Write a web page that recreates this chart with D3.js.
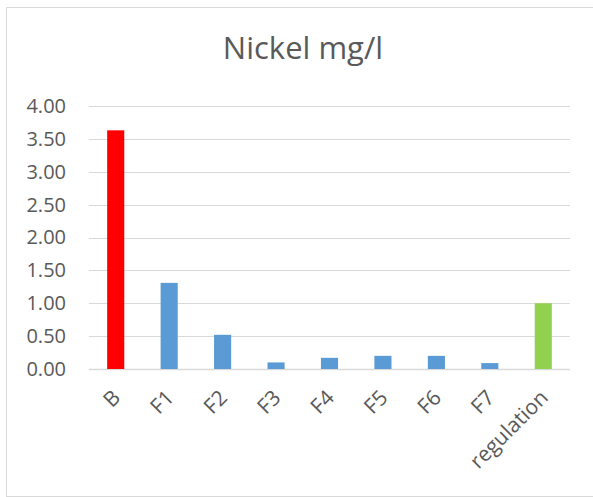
<!DOCTYPE html>
<html><head><meta charset="utf-8">
<script src="https://cdn.jsdelivr.net/npm/d3@7"></script>
<style>body{margin:0;background:#fff}svg{display:block}text{font-family:"Open Sans",sans-serif;fill:#595959}</style>
</head><body><svg id="c" width="593" height="497"></svg>
<script>
const categories = ["B","F1","F2","F3","F4","F5","F6","F7","regulation"];
const values = [3.63,1.31,0.52,0.10,0.17,0.20,0.20,0.09,1.00];
const colors = ["#FF0000","#5B9BD5","#5B9BD5","#5B9BD5","#5B9BD5","#5B9BD5","#5B9BD5","#5B9BD5","#92D050"];
const yTicks = [0,0.5,1,1.5,2,2.5,3,3.5,4];
const title = "Nickel mg/l";

const svg = d3.select("#c");
svg.append("rect").attr("x",6.5).attr("y",7.5).attr("width",600).attr("height",489).attr("fill","#fff").attr("stroke","#d9d9d9");
const x = d3.scaleBand().domain(categories).range([89,570]).paddingInner(0.68).paddingOuter(0.34);
const y = d3.scaleLinear().domain([0,4]).range([369,106]);

svg.append("text").attr("x",303).attr("y",59).attr("text-anchor","middle").style("font-size","31px").text(title);

const g = svg.append("g");
g.selectAll("line.grid").data(yTicks).join("line").attr("class","grid")
  .attr("x1",89).attr("x2",570).attr("y1",d=>Math.round(y(d))+0.5).attr("y2",d=>Math.round(y(d))+0.5)
  .attr("stroke","#d9d9d9").attr("stroke-width",d=>d===0?1.5:1.2);

const yAxis = d3.axisLeft(y).tickValues(yTicks).tickFormat(d3.format(".2f")).tickSize(0).tickPadding(0);
const ya = svg.append("g").attr("transform","translate(66,0)").call(yAxis);
ya.select(".domain").remove();
ya.selectAll("text").style("font-size","20px").attr("fill","#595959").style("font-family","'Open Sans',sans-serif");

svg.selectAll("rect.bar").data(values).join("rect").attr("class","bar")
  .attr("x",(d,i)=>x(categories[i])).attr("width",x.bandwidth())
  .attr("y",d=>y(d)).attr("height",d=>y(0)-y(d)).attr("fill",(d,i)=>colors[i]);

const xAxis = d3.axisBottom(x).tickSize(0).tickPadding(0);
const xa = svg.append("g").attr("transform","translate(0,369)").call(xAxis);
xa.select(".domain").remove();
xa.selectAll("text").style("font-size","21px").attr("fill","#595959").style("font-family","'Open Sans',sans-serif")
  .attr("text-anchor","end").attr("dy",0).attr("y",0)
  .attr("transform","translate(6,30) rotate(-45)");
</script></body></html>
